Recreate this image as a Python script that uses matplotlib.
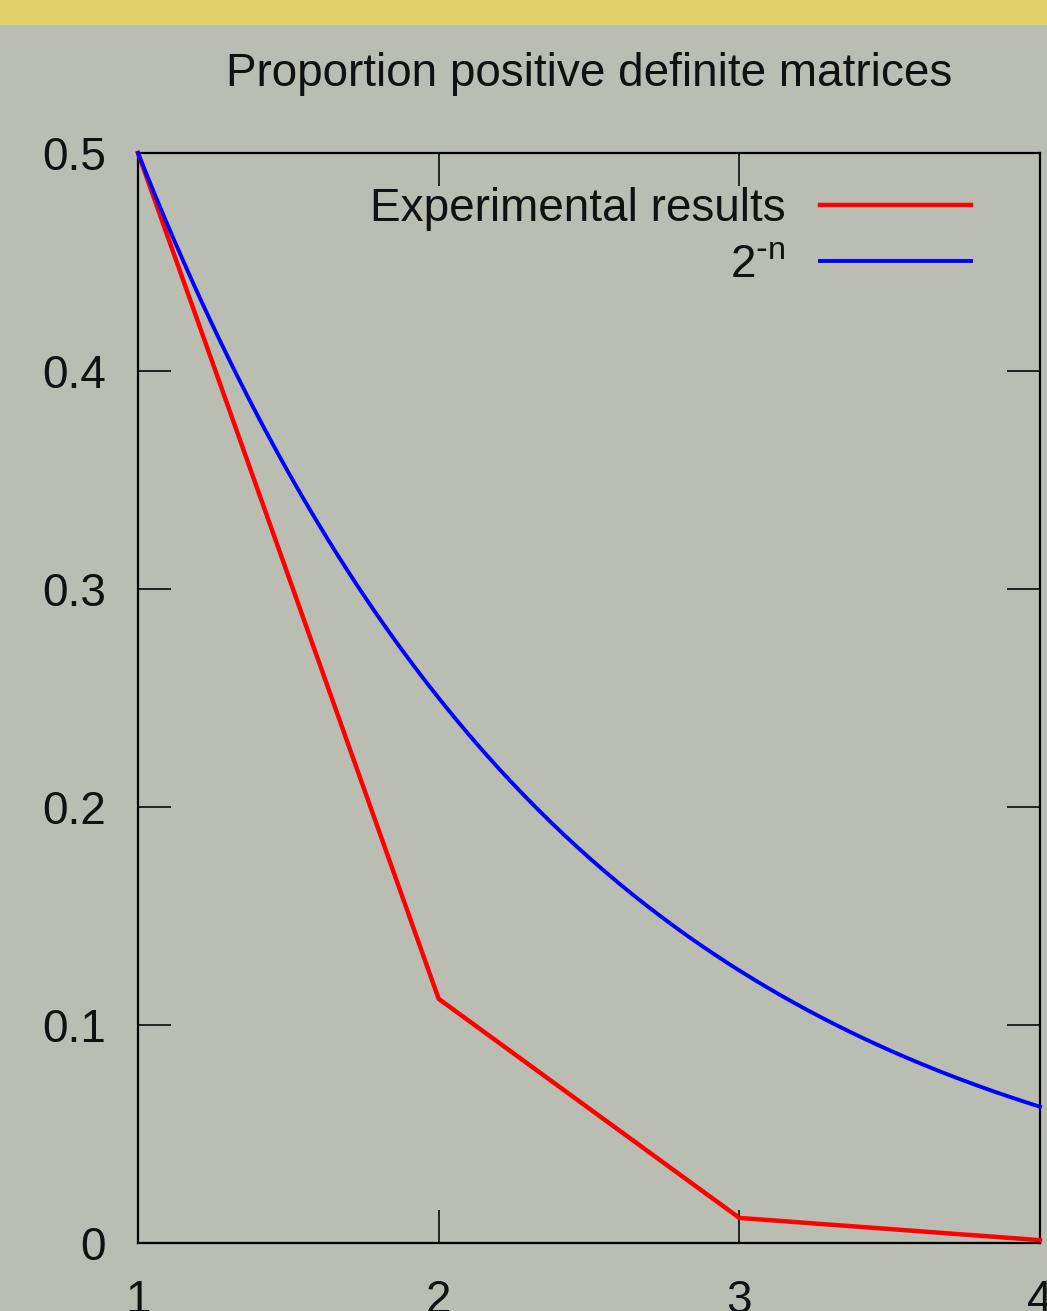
#!/usr/bin/env python3
"""Proportion of positive definite matrices vs 2^-n."""

import matplotlib

matplotlib.use("Agg")
import matplotlib.pyplot as plt
import numpy as np
from matplotlib.patches import Rectangle

# data
n_values = [1, 2, 3, 4]
experimental = [0.5, 0.112, 0.0115, 0.0013]
curve_n = np.linspace(1, 4, 200)
curve_y = 2.0 ** (-curve_n)

x_ticks = [1, 2, 3, 4]
y_ticks = [0, 0.1, 0.2, 0.3, 0.4, 0.5]
y_tick_labels = ["0", "0.1", "0.2", "0.3", "0.4", "0.5"]

BG = "#B9BDB2"
BAND = "#E2D167"
FONT_SIZE = 33

plt.rcParams["font.family"] = ["Liberation Sans", "DejaVu Sans"]
plt.rcParams["axes.unicode_minus"] = False

fig = plt.figure(figsize=(10.47, 13.11), dpi=100, facecolor=BG)
fig.patches.append(Rectangle((0, 1 - 25 / 1311), 1, 25 / 1311, transform=fig.transFigure,
                             facecolor=BAND, edgecolor="none", zorder=0))

ax = fig.add_axes([138 / 1047, 68 / 1311, 902 / 1047, 1090 / 1311])
ax.set_facecolor("none")

ax.plot(n_values, experimental, color="#FF0000", lw=3.2, label="Experimental results",
        solid_joinstyle="miter", clip_on=False, zorder=3)
ax.plot(curve_n, curve_y, color="#0000FF", lw=2.8, label=r"2$^{\mathregular{\text{-}n}}$",
        clip_on=False, zorder=3)

ax.set_xlim(1, 4)
ax.set_ylim(0, 0.5)
ax.set_xticks(x_ticks)
ax.set_yticks(y_ticks, labels=y_tick_labels)

for side in ax.spines.values():
    side.set_linewidth(1.6)
    side.set_color("black")

ax.tick_params(axis="both", direction="in", length=24, width=1.4, color="#222222",
               labelsize=FONT_SIZE, top=True, right=True, labelcolor="#111111")
ax.tick_params(axis="x", pad=26)
ax.tick_params(axis="y", pad=23)

ax.set_title("Proportion positive definite matrices", fontsize=FONT_SIZE, color="#111111", pad=48)

leg = ax.legend(loc="upper right", bbox_to_anchor=(0.944, 0.986), frameon=False,
                markerfirst=False, fontsize=FONT_SIZE, handlelength=3.3,
                handletextpad=0.75, labelspacing=0.27, borderaxespad=0)
for col in leg._legend_handle_box.get_children():
    col.align = "right"
for t in leg.get_texts():
    t.set_color("#111111")

fig.savefig("out.png", dpi=100, facecolor=BG)
